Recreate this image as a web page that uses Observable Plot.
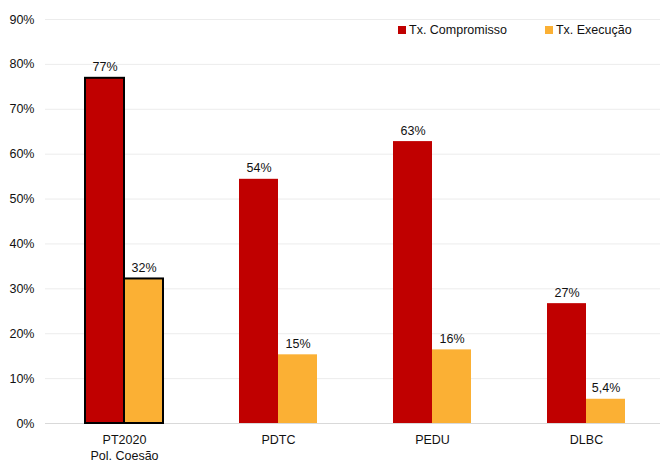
<!DOCTYPE html>
<html>
<head>
<meta charset="utf-8">
<script src="https://cdn.jsdelivr.net/npm/d3@7"></script>
<script src="https://cdn.jsdelivr.net/npm/@observablehq/plot@0.6"></script>
<style>
  html, body { margin: 0; padding: 0; background: #fff; overflow: hidden; }
  #wrap { position: relative; width: 660px; height: 463px; font-family: "Liberation Sans", Arial, sans-serif; }
  #legend { position: absolute; top: 23px; left: 396px; display: flex; font-size: 12.5px; color: #111; background: #fff; padding: 0 2px; }
  .item { display: flex; align-items: center; }
  .sw { width: 8px; height: 8px; display: inline-block; margin-right: 3px; }
</style>
</head>
<body>
<div id="wrap"><div id="legend"></div></div>
<script>
const categories = ["PT2020\nPol. Coesão", "PDTC", "PEDU", "DLBC"];
const seriesNames = ["Tx. Compromisso", "Tx. Execução"];
const seriesColors = ["#C00000", "#FBB034"];
const compromisso = [76.9, 54.4, 62.8, 26.7];
const execucao = [32.2, 15.3, 16.4, 5.4];
const yTicks = [0, 10, 20, 30, 40, 50, 60, 70, 80, 90];
const highlighted = ["PT2020\nPol. Coesão"];

const rows = [];
categories.forEach((c, i) => {
  rows.push({cat: c, series: seriesNames[0], value: compromisso[i]});
  rows.push({cat: c, series: seriesNames[1], value: execucao[i]});
});
const fmt = v => v >= 10 ? Math.round(v) + "%" : v.toFixed(1).replace(".", ",") + "%";
const colorOf = s => seriesColors[seriesNames.indexOf(s)];
const first = rows.filter(d => d.series === seriesNames[0]);
const second = rows.filter(d => d.series === seriesNames[1]);
const outline = d => highlighted.includes(d.cat) ? "#000" : "none";

const chart = Plot.plot({
  width: 660,
  height: 463,
  marginLeft: 45,
  marginRight: 0,
  marginTop: 19,
  marginBottom: 40,
  style: {fontFamily: "'Liberation Sans', Arial, sans-serif", fontSize: "12.5px", color: "#111", background: "#fff", overflow: "visible"},
  x: {domain: categories, range: [45.4, 663.8], paddingInner: 0.495, paddingOuter: 0.2475, label: null},
  y: {domain: [0, 90], label: null},
  marks: [
    Plot.ruleY(yTicks.filter(t => t > 0), {stroke: "#ececec", strokeWidth: 1}),
    Plot.ruleY([0], {stroke: "#d9d9d9", strokeWidth: 1}),
    Plot.barY(first, {x: "cat", y: "value", fill: colorOf(seriesNames[0]), insetRight: 39, stroke: outline, strokeWidth: 2}),
    Plot.barY(second, {x: "cat", y: "value", fill: colorOf(seriesNames[1]), insetLeft: 39, stroke: outline, strokeWidth: 2}),
    Plot.text(first, {x: "cat", y: "value", text: d => fmt(d.value), dx: -19.5, dy: -11, fill: "#111", fontSize: 12.5}),
    Plot.text(second, {x: "cat", y: "value", text: d => fmt(d.value), dx: 19.5, dy: -11, fill: "#111", fontSize: 12.5}),
    Plot.axisY({ticks: yTicks, tickFormat: d => d + "%", tickSize: 0, tickPadding: 11, fontSize: 12.5}),
    Plot.axisX({tickSize: 0, tickPadding: 9, fontSize: 12.5, lineHeight: 1.3})
  ]
});
document.getElementById("wrap").prepend(chart);

const legend = document.getElementById("legend");
seriesNames.forEach((s, i) => {
  const item = document.createElement("div");
  item.className = "item";
  item.style.marginRight = i === 0 ? "38px" : "0";
  const sw = document.createElement("span");
  sw.className = "sw";
  sw.style.background = seriesColors[i];
  item.appendChild(sw);
  item.appendChild(document.createTextNode(s));
  legend.appendChild(item);
});
</script>
</body>
</html>
